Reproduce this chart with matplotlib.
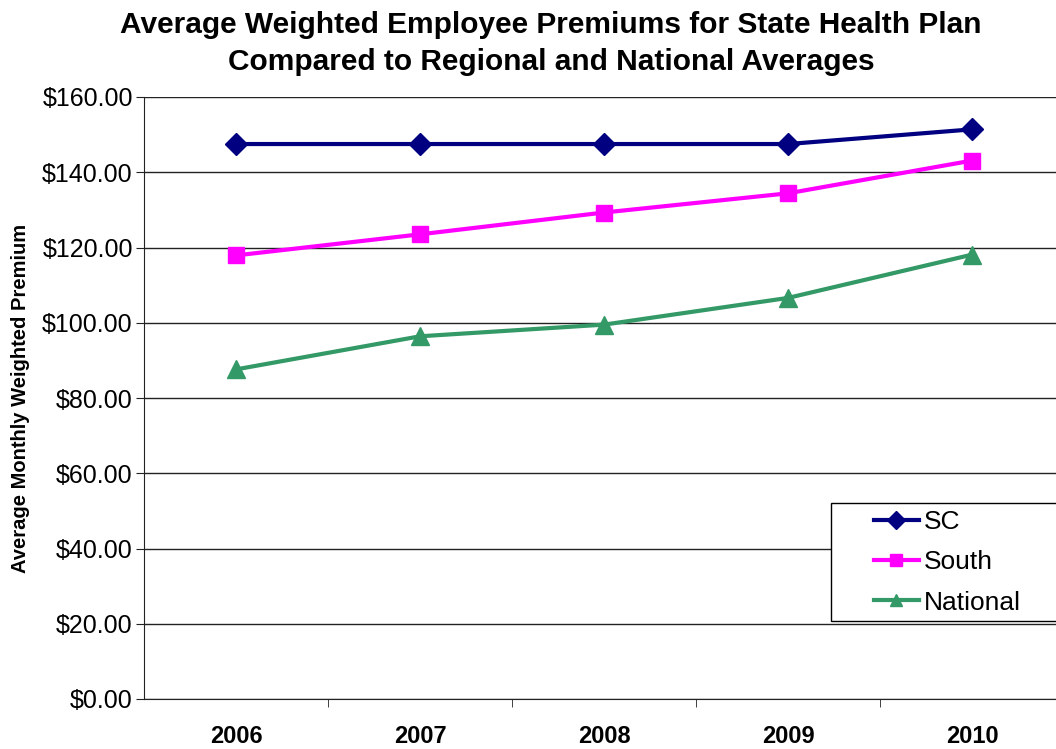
import matplotlib.pyplot as plt
from matplotlib.patches import Rectangle
import numpy as np

plt.rcParams['font.family'] = ['Liberation Sans', 'DejaVu Sans']

years = ['2006', '2007', '2008', '2009', '2010']
sc = [147.5, 147.5, 147.5, 147.5, 151.4]
south = [117.9, 123.5, 129.3, 134.4, 143.1]
national = [87.6, 96.4, 99.5, 106.6, 118.1]

fig = plt.figure(figsize=(10.56, 7.49), dpi=100)
ax = fig.add_axes([144 / 1056, 50 / 749, 920 / 1056, 602 / 749])

x = np.arange(len(years))
ax.plot(x, sc, color='#000080', lw=3, marker='D', ms=11, label='SC')
ax.plot(x, south, color='#FF00FF', lw=3, marker='s', ms=12, label='South')
ax.plot(x, national, color='#339966', lw=3, marker='^', ms=13, label='National')

ax.set_xlim(-0.5, len(years) - 0.5)
ax.set_ylim(0, 160)
ax.set_yticks(np.arange(0, 161, 20))
ax.set_yticklabels([f'${v:.2f}' for v in range(0, 161, 20)], fontsize=18)
ax.yaxis.grid(True, color='#222222', lw=1)
ax.set_axisbelow(True)

ax.set_xticks(x)
ax.set_xticklabels(years, fontsize=17, fontweight='bold')
ax.tick_params(axis='x', length=0, pad=19)
ax.set_xticks(np.arange(0.5, len(years) - 0.5), minor=True)
ax.tick_params(axis='x', which='minor', length=6, direction='out', color='#222222')
ax.tick_params(axis='y', length=6, direction='out', color='#222222', pad=2)

for s in ['top', 'right']:
    ax.spines[s].set_visible(False)
ax.spines['left'].set_color('#222222')
ax.spines['bottom'].set_color('#222222')

ax.set_ylabel('Average Monthly Weighted Premium', fontsize=14.5, fontweight='bold', labelpad=9)

fig.text(0.522, 0.942, 'Average Weighted Employee Premiums for State Health Plan\nCompared to Regional and National Averages',
         ha='center', va='center', fontsize=21.5, fontweight='bold', linespacing=1.38)

# legend frame drawn separately so the left margin can be wider than the top one
ax.add_patch(Rectangle((831 / 1056, (749 - 621) / 749), 260 / 1056, 118 / 749,
                       transform=fig.transFigure, facecolor='white',
                       edgecolor='black', lw=1, zorder=4.5, clip_on=False))
leg = ax.legend(loc='upper left', bbox_to_anchor=(874 / 1056, (749 - 510) / 749), bbox_transform=fig.transFigure,
                fontsize=19, frameon=False, handlelength=1.7,
                borderpad=0, labelspacing=0.62, handletextpad=0.2, borderaxespad=0)
leg.set_zorder(6)
for h in leg.legend_handles:
    h.set_markersize(9)

fig.savefig('out.png', dpi=100)
